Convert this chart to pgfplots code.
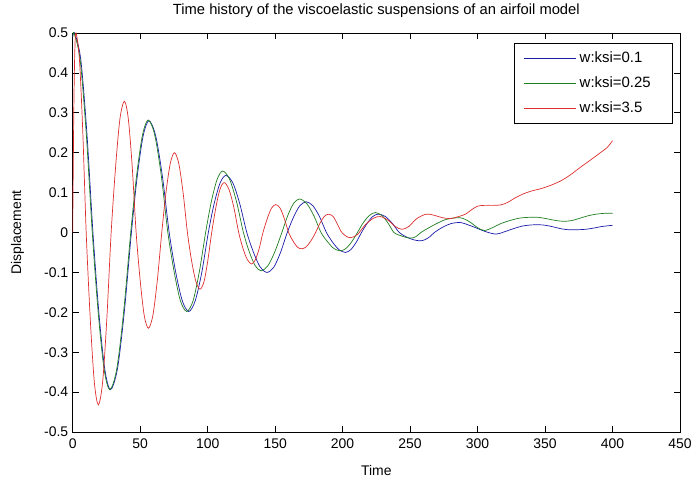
\documentclass[border=0pt]{standalone}
\usepackage{pgfplots}
\pgfplotsset{compat=1.18}
\usepackage{fontspec}
\setmainfont{Liberation Sans}

\definecolor{mblue}{RGB}{25,25,170}
\definecolor{mgreen}{RGB}{30,125,30}
\definecolor{mred}{RGB}{222,45,45}

\begin{document}
\begin{tikzpicture}
\begin{axis}[
  scale only axis,
  width=607.3bp, height=399bp,
  xmin=0, xmax=450, ymin=-0.5, ymax=0.5,
  xtick={0,50,...,450},
  ytick={-0.5,-0.4,-0.3,-0.2,-0.1,0,0.1,0.2,0.3,0.4,0.5},
  yticklabels={-0.5,-0.4,-0.3,-0.2,-0.1,0,0.1,0.2,0.3,0.4,0.5},
  /pgf/number format/assume math mode=true,
  tick align=inside,
  major tick length=6bp,
  tick style={black, line width=0.6bp},
  axis line style={black, line width=0.6bp},
  font=\fontsize{14}{16}\selectfont,
  ticklabel style={font=\fontsize{14}{16}\selectfont},
  xticklabel style={yshift=-3bp},
  yticklabel style={xshift=-1bp},
  title={Time history of the viscoelastic suspensions of an airfoil model},
  title style={at={(0.5,1.0308)}, anchor=base, font=\fontsize{14.8}{17}\selectfont},
  xlabel={Time},
  xlabel style={at={(0.5,-0.1078)}, anchor=base, font=\fontsize{14}{16}\selectfont},
  ylabel={Displacement},
  ylabel style={at={(-0.085,0.5)}, anchor=base, font=\fontsize{14}{16}\selectfont},
  legend style={at={(0.9885,0.975)}, anchor=north east,
    line width=0.6bp, font=\fontsize{15}{17}\selectfont,
    inner xsep=10bp, inner ysep=6bp, row sep=7bp, column sep=1bp,
    nodes={text height=11bp, text depth=3bp, inner ysep=2bp, inner xsep=2bp,
           text width=81bp, align=left}},
  legend cell align=left,
  legend image code/.code={\draw[#1] (0bp,0bp) -- (52bp,0bp);},
  every axis plot/.append style={line width=0.7bp},
]
% w:ksi = 0.1
\addplot[draw=mblue, smooth] coordinates {
(0,0.49) (1.5,0.5) (6,0.433) (10.5,0.25) (15,0)
(19.3,-0.197) (23.7,-0.341) (28,-0.394) (33.2,-0.341) (38.3,-0.197) (43.5,0)
(47.8,0.14) (52.2,0.242) (56.5,0.28) (61.5,0.242) (66.5,0.14) (71.5,0)
(76.3,-0.099) (81.2,-0.171) (86,-0.198) (90.8,-0.171) (95.7,-0.099) (100.5,0)
(104.8,0.072) (109.2,0.124) (113.5,0.143) (118.7,0.124) (123.8,0.072) (129,0)
(134,-0.05) (139,-0.087) (144,-0.1) (149,-0.087) (154,-0.05) (159,0)
(163.7,0.039) (168.3,0.067) (173,0.077) (178,0.067) (183,0.039) (188,0)
(192.7,-0.025) (197.3,-0.043) (202,-0.05) (206,-0.043) (210,-0.025) (214,0)
(218.2,0.023) (222.3,0.04) (226.5,0.046) (231.7,0.04) (236.8,0.023) (242,0)
(247.2,-0.011) (252.3,-0.018) (257.5,-0.021) (261,-0.018) (264.5,-0.011) (268,0)
(274,0.013) (280,0.022) (287,0.025) (294,0.018) (300,0.01) (307,0.001)
(314,-0.004) (320,0.002) (327,0.01) (333,0.016) (340,0.019) (348,0.019)
(355,0.015) (361,0.01) (367,0.007) (374,0.007) (380,0.008) (386,0.011)
(392,0.015) (400,0.018)
};
\addlegendentry{w:ksi=0.1}
% w:ksi = 0.25
\addplot[draw=mgreen, smooth] coordinates {
(0,0.49) (1,0.5) (5.5,0.433) (10,0.25) (14.5,0)
(18.8,-0.197) (23.2,-0.341) (27.5,-0.394) (32.7,-0.341) (37.8,-0.197) (43,0)
(47.3,0.141) (51.7,0.244) (56,0.282) (60.8,0.244) (65.7,0.141) (70.5,0)
(75.2,-0.099) (79.8,-0.171) (84.5,-0.198) (89.2,-0.171) (93.8,-0.099) (98.5,0)
(102.7,0.077) (107,0.133) (111.2,0.154) (116.3,0.133) (121.4,0.077) (126.5,0)
(130.8,-0.048) (135.2,-0.083) (139.5,-0.096) (144.7,-0.083) (149.8,-0.048) (155,0)
(159.3,0.042) (163.7,0.073) (168,0.084) (173.3,0.073) (178.7,0.042) (184,0)
(188.8,-0.023) (193.5,-0.04) (198.3,-0.046) (202.5,-0.04) (206.8,-0.023) (211,0)
(215.4,0.025) (219.9,0.043) (224.3,0.05) (228.9,0.043) (233.4,0.025) (238,0)
(242.3,-0.007) (246.7,-0.012) (251,-0.014) (254.5,-0.01) (258,0)
(264,0.012) (270,0.023) (277,0.033) (287,0.037) (294,0.027) (300,0.012)
(305,0.005) (311,0.012) (317,0.022) (324,0.03) (331,0.036) (338,0.038)
(345,0.038) (352,0.034) (358,0.03) (364,0.028) (370,0.03) (376,0.036)
(382,0.042) (388,0.046) (394,0.048) (400,0.048)
};
\addlegendentry{w:ksi=0.25}
% w:ksi = 3.5
\addplot[draw=mred, smooth] coordinates {
(0,0) (0.8,0.3) (1.6,0.46) (2.5,0.5) (5,0.433) (7.5,0.25) (10,0)
(13,-0.216) (16,-0.374) (19,-0.432) (22.2,-0.374) (25.3,-0.216) (28.5,0)
(31.8,0.165) (35,0.285) (38.3,0.329) (41.2,0.285) (44.1,0.165) (47,0)
(50,-0.12) (53,-0.208) (56.1,-0.24) (59.4,-0.208) (62.7,-0.12) (66,0)
(69.1,0.1) (72.3,0.173) (75.4,0.2) (78.6,0.173) (81.8,0.1) (85,0)
(88.1,-0.071) (91.3,-0.123) (94.4,-0.142) (97.3,-0.123) (100.1,-0.071) (103,0)
(106.1,0.063) (109.1,0.108) (112.2,0.125) (115.8,0.108) (119.4,0.063) (123,0)
(126.2,-0.04) (129.4,-0.068) (132.6,-0.079) (135.4,-0.068) (138.2,-0.04) (141,0)
(144.2,0.035) (147.3,0.061) (150.5,0.07) (153.7,0.061) (156.8,0.035) (160,0)
(163.2,-0.021) (166.3,-0.036) (169.5,-0.041) (173,-0.036) (176.5,-0.021) (180,0)
(183.2,0.023) (186.4,0.04) (189.6,0.046) (193,0.04) (196,0.022) (199,0.002)
(202.5,-0.009) (206,-0.013) (211,-0.005) (217,0.02) (223,0.036) (228,0.04)
(234,0.03) (239,0.015) (244,0.008) (249,0.015) (255,0.035) (262,0.046)
(268,0.043) (274,0.037) (280,0.035) (286,0.04) (291,0.046) (296,0.058)
(300,0.066) (305,0.068) (311,0.068) (317,0.069) (322,0.075) (328,0.087)
(334,0.097) (340,0.104) (347,0.11) (354,0.118) (362,0.13) (369,0.145)
(376,0.163) (383,0.18) (391,0.2) (396,0.213) (400,0.23)
};
\addlegendentry{w:ksi=3.5}
\end{axis}
\pgfresetboundingbox
\path[use as bounding box] ([xshift=-72.7bp,yshift=-50bp]current axis.south west)
  rectangle ([xshift=14bp,yshift=33bp]current axis.north east);
\end{tikzpicture}
\end{document}
